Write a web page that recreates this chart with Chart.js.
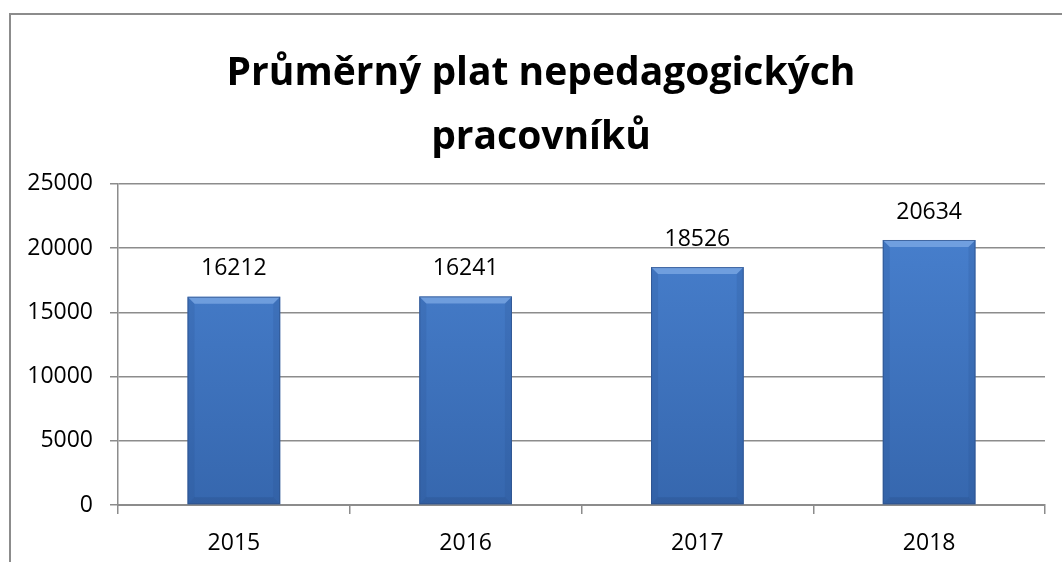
<!DOCTYPE html>
<html>
<head>
<meta charset="utf-8">
<script src="https://cdn.jsdelivr.net/npm/chart.js@4"></script>
<style>
  html, body { margin: 0; padding: 0; background: #fff; overflow: hidden; }
  #wrap { position: relative; width: 1062px; height: 562px; }
  #frame { position: absolute; left: 9px; top: 13px; width: 1100px; height: 600px; border: 2px solid #8c8c8c; box-sizing: border-box; }
  canvas { position: absolute; left: 0; top: 0; }
</style>
</head>
<body>
<div id="wrap">
  <div id="frame"></div>
  <canvas id="salaryChart" width="1062" height="562"></canvas>
</div>
<script>
// chart data
const years = ['2015', '2016', '2017', '2018'];
const salaries = [16212, 16241, 18526, 20634];
const yTicks = [0, 5000, 10000, 15000, 20000, 25000];
const titleLines = ['Průměrný plat nepedagogických', 'pracovníků'];

const fontFamily = '"Open Sans", Lato, sans-serif';

// title in the original is centred a bit right of the canvas middle
const titleShift = {
    id: 'titleShift',
    afterLayout(chart) {
        if (chart.titleBlock) chart.titleBlock.left = 37;
    }
};

// labels above the bars
const valueLabels = {
    id: 'valueLabels',
    afterDatasetsDraw(chart) {
        const ctx = chart.ctx;
        const meta = chart.getDatasetMeta(0);
        ctx.save();
        ctx.font = '23px ' + fontFamily;
        ctx.fillStyle = '#000';
        ctx.textAlign = 'center';
        ctx.textBaseline = 'middle';
        meta.data.forEach((bar, i) => {
            ctx.fillText(String(salaries[i]), bar.x, bar.y - 28);
        });
        ctx.restore();
    }
};

// bevel look on the bars, like the office chart style
const bevel = {
    id: 'bevel',
    afterDatasetsDraw(chart) {
        const ctx = chart.ctx;
        const meta = chart.getDatasetMeta(0);
        ctx.save();
        meta.data.forEach(bar => {
            const l = bar.x - bar.width / 2, r = bar.x + bar.width / 2;
            const t = bar.y, b = bar.base;
            const e = 7;
            // top edge highlight
            ctx.fillStyle = 'rgba(140,182,236,0.6)';
            ctx.beginPath();
            ctx.moveTo(l, t); ctx.lineTo(r, t); ctx.lineTo(r - e, t + e); ctx.lineTo(l + e, t + e);
            ctx.closePath(); ctx.fill();
            // left and right edges
            ctx.fillStyle = 'rgba(40,80,140,0.18)';
            ctx.beginPath();
            ctx.moveTo(l, t); ctx.lineTo(l + e, t + e); ctx.lineTo(l + e, b - e); ctx.lineTo(l, b);
            ctx.closePath(); ctx.fill();
            ctx.beginPath();
            ctx.moveTo(r, t); ctx.lineTo(r - e, t + e); ctx.lineTo(r - e, b - e); ctx.lineTo(r, b);
            ctx.closePath(); ctx.fill();
            // bottom edge
            ctx.fillStyle = 'rgba(30,60,110,0.2)';
            ctx.beginPath();
            ctx.moveTo(l, b); ctx.lineTo(r, b); ctx.lineTo(r - e, b - e); ctx.lineTo(l + e, b - e);
            ctx.closePath(); ctx.fill();
            // outline
            ctx.strokeStyle = 'rgba(45,80,135,0.7)';
            ctx.lineWidth = 1;
            ctx.strokeRect(l + 0.5, t + 0.5, r - l - 1, b - t - 1);
        });
        ctx.restore();
    }
};

function barGradient(context) {
    const chart = context.chart;
    const area = chart.chartArea;
    if (!area) return '#3f74bf';
    const g = chart.ctx.createLinearGradient(0, area.top, 0, area.bottom);
    g.addColorStop(0, '#4a83d2');
    g.addColorStop(1, '#3667ae');
    return g;
}

const ctx = document.getElementById('salaryChart').getContext('2d');
new Chart(ctx, {
    type: 'bar',
    data: {
        labels: years,
        datasets: [{
            data: salaries,
            backgroundColor: barGradient,
            borderWidth: 0,
            categoryPercentage: 1.0,
            barPercentage: 0.4
        }]
    },
    options: {
        responsive: false,
        animation: false,
        layout: { padding: { left: 0, right: 17, top: 0, bottom: 0 } },
        plugins: {
            legend: { display: false },
            tooltip: { enabled: false },
            title: {
                display: true,
                text: titleLines,
                color: '#000',
                font: { family: fontFamily, size: 39, weight: 'bold', lineHeight: 1.64 },
                padding: { top: 42, bottom: 14 }
            }
        },
        scales: {
            x: {
                grid: { drawOnChartArea: false, drawTicks: true, tickLength: 9, color: '#8c8c8c', lineWidth: 1.5, offset: true },
                border: { display: true, color: '#8c8c8c', width: 2 },
                ticks: { color: '#000', font: { family: fontFamily, size: 23 }, padding: 16 },
                afterFit(scale) { scale.height = 57; }
            },
            y: {
                min: 0,
                max: 25000,
                afterBuildTicks(scale) { scale.ticks = yTicks.map(v => ({ value: v })); },
                grid: { color: '#8c8c8c', lineWidth: 1.5, tickLength: 8 },
                border: { display: true, color: '#8c8c8c', width: 1.5 },
                ticks: { color: '#000', font: { family: fontFamily, size: 23 }, padding: 17, callback: v => String(v) },
                afterFit(scale) { scale.width = 118; }
            }
        }
    },
    plugins: [titleShift, bevel, valueLabels]
});
</script>
</body>
</html>
